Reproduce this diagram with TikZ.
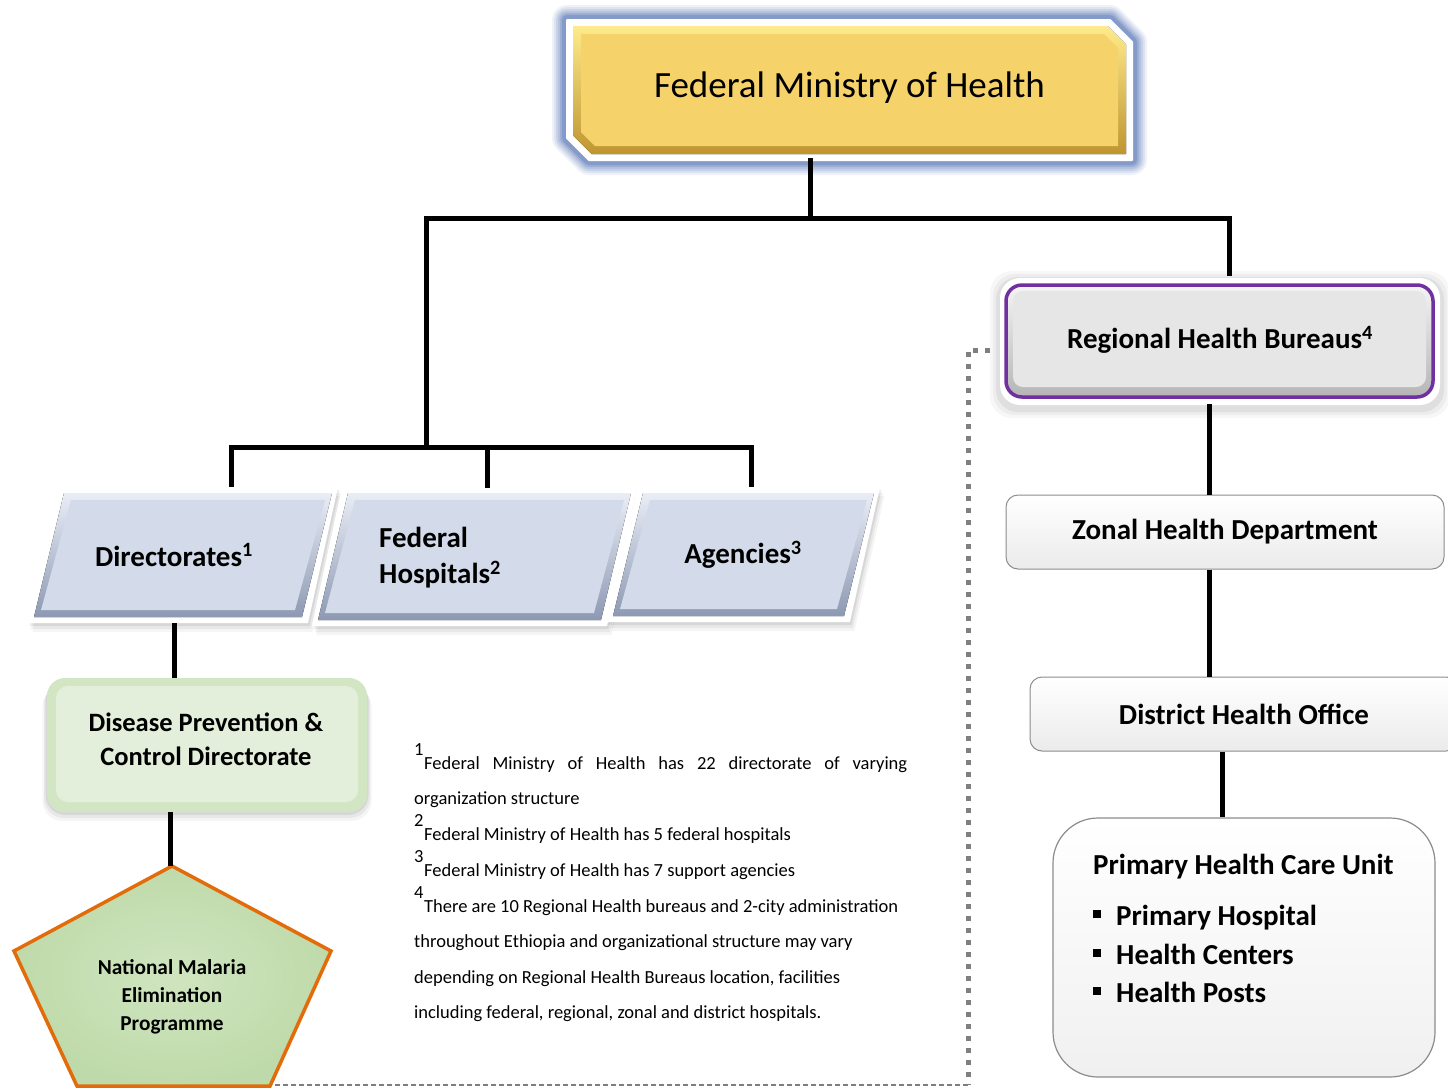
\documentclass[tikz,border=0pt]{standalone}
\usepackage{fontspec}
\setmainfont{Carlito}
\definecolor{glowblue}{HTML}{3F62AE}
\definecolor{fmlight}{HTML}{FFEB8C}
\definecolor{fmdark}{HTML}{BF9530}
\definecolor{fmyellow}{HTML}{F6D36A}
\definecolor{pgface}{HTML}{D3DBEA}
\definecolor{pglight}{HTML}{E9EDF6}
\definecolor{pgdark}{HTML}{8D99B3}
\definecolor{rhbpurple}{HTML}{7030A0}
\definecolor{rhbtop}{HTML}{F4F4F4}
\definecolor{rhbbot}{HTML}{B5B5B5}
\definecolor{rhbface}{HTML}{E6E6E6}
\definecolor{dpcedge}{HTML}{D3E6C4}
\definecolor{dpcface}{HTML}{E3EFDA}
\definecolor{pentin}{HTML}{CFE5BF}
\definecolor{pentout}{HTML}{BFDAAA}
\definecolor{pentorange}{HTML}{E36C0A}
\definecolor{dotgray}{HTML}{7F7F7F}
\definecolor{boxgray}{HTML}{8C8C8C}
\definecolor{boxfill}{HTML}{EBEBEB}
\definecolor{phcbot}{HTML}{F0F0F0}
\newcommand\pgbox[5]{%
  \foreach \s/\o in {9/0.04,6/0.05,3/0.07}{\fill[black,opacity=\o,xshift=\s pt*0.5,yshift=-\s pt,pg={#1}{#2}{#3}{#4}{#5}{0}];}
  \fill[white,pg={#1}{#2}{#3}{#4}{#5}{0}];
  \fill[top color=pglight,bottom color=pgdark,pg={#1}{#2}{#3}{#4}{#5}{6}];
  \fill[pgface,pg={#1}{#2}{#3}{#4}{#5}{13}];
}
\begin{document}
\begin{tikzpicture}[x=1pt,y=-1pt,
  conn/.style={line width=5pt, black, line join=miter},
  lbl/.style={font=\fontsize{29}{36}\selectfont\bfseries, text=black, inner sep=0pt, align=center},
  fn/.style={anchor=base west, inner sep=0pt, font=\fontsize{18.5}{22}\selectfont},
  pg/.style n args={6}{insert path={({#1+#5+#6},{#3+#6}) -- ({#1+#5+#2-#6},{#3+#6}) -- ({#1+#2-#6},{#4-#6}) -- ({#1+#6},{#4-#6}) -- cycle}},
  rbox/.style={lbl, draw=boxgray, line width=1pt, rounded corners=12pt, top color=white, bottom color=boxfill},
  dotsq/.style={dotgray, line width=5pt, dash pattern=on 5pt off 7pt},
  dashfine/.style={dotgray, line width=2.5pt, dash pattern=on 5pt off 3pt},
]
\useasboundingbox (0,0) rectangle (1448,1088);
\clip (0,0) rectangle (1448,1088);
\fill[white] (0,0) rectangle (1448,1088);

% ---------- Federal Ministry of Health ----------
\foreach \w/\o in {30/0.08,26/0.10,22/0.12,18/0.15,14/0.2,10/0.25}
  \draw[glowblue, line width=\w pt, opacity=\o, line join=round] (567,20) -- (1110,20) -- (1132,42) -- (1132,160) -- (589,160) -- (567,138) -- cycle;
\filldraw[white, line width=2pt, line join=round] (567,20) -- (1110,20) -- (1132,42) -- (1132,160) -- (589,160) -- (567,138) -- cycle;
\fill[top color=fmlight, bottom color=fmdark] (573,26) -- (1107.5,26) -- (1126,44.5) -- (1126,154) -- (591.5,154) -- (573,135.5) -- cycle;
\fill[fmyellow] (581,34) -- (1104.2,34) -- (1118,47.8) -- (1118,146) -- (594.8,146) -- (581,132.2) -- cycle;
\node[font=\fontsize{37}{44}\selectfont, minimum width=565pt, minimum height=140pt, inner sep=0pt] (fmoh) at (849.5,88) {Federal Ministry of Health};

% ---------- Regional Health Bureaus ----------
\foreach \s/\o in {10/0.03,7/0.04,4/0.06}
  \fill[black,opacity=\o,rounded corners=22pt] (1000-\s,278-\s+3) rectangle (1440+\s,405+\s+3);
\fill[white, rounded corners=20pt] (1000,278) rectangle (1440,405);
\draw[rhbpurple, line width=3.5pt, rounded corners=16pt, top color=rhbtop, bottom color=rhbbot] (1006,285) rectangle (1433,397);
\fill[rhbface, rounded corners=10pt] (1013,291) rectangle (1426,387);
\node[lbl, minimum width=440pt, minimum height=127pt] (rhb) at (1220,340) {Regional Health Bureaus\textsuperscript{4}};

% ---------- parallelograms ----------
\pgbox{28}{280}{487}{623}{30}
\pgbox{312}{295}{487}{626}{30}
\pgbox{607}{243}{487}{622}{30}
\node[lbl, minimum width=250pt, minimum height=136pt] (dir) at (174,555) {Directorates\textsuperscript{1}};
\node[lbl, align=left, anchor=west, minimum height=139pt] (fh) at (379,557.5) {Federal\\Hospitals\textsuperscript{2}};
\node[lbl, minimum width=200pt, minimum height=135pt] (ag) at (743,554.5) {Agencies\textsuperscript{3}};

% ---------- Disease Prevention & Control Directorate ----------
\foreach \s/\o in {9/0.04,6/0.05,3/0.07}
  \fill[black,opacity=\o,rounded corners=20pt] (47-\s/2,678+\s) rectangle (367+\s/2,812+\s);
\node[minimum width=320pt, minimum height=134pt, rounded corners=18pt, fill=dpcedge, inner sep=0pt] (dpc) at (207,745) {};
\fill[dpcface, rounded corners=12pt] (56,686) rectangle (358,802);
\node[lbl, font=\fontsize{26.5}{34}\selectfont\bfseries] (dpctext) at (206,739) {Disease Prevention \&\\Control Directorate};

% ---------- pentagon ----------
\coordinate (pA) at (172,866);
\coordinate (pR) at (331,951);
\coordinate (pBR) at (270,1086);
\coordinate (pBL) at (77,1086);
\coordinate (pL) at (14,951);
\draw[pentorange, line width=3.5pt, line join=miter, inner color=pentin, outer color=pentout] (pA) -- (pR) -- (pBR) -- (pBL) -- (pL) -- cycle;
\node[lbl, font=\fontsize{21.3}{28}\selectfont\bfseries] (nmep) at (172,997) {National Malaria\\Elimination\\Programme};

% ---------- right column ----------
\node[rbox, minimum width=438pt, minimum height=74pt] (zonal) at (1225,532) {Zonal Health Department};
\node[rbox, minimum width=428pt, minimum height=74pt] (district) at (1244,714) {District Health Office};
\node[draw=boxgray, line width=1.2pt, rounded corners=45pt, top color=white, bottom color=phcbot, minimum width=382pt, minimum height=259pt, inner sep=0pt] (phc) at (1244,947.5) {};
\node[lbl, anchor=base west] (phct) at (1093,874) {Primary Health Care Unit};
\node[lbl, anchor=base west] (phc1) at (1093,925) {\makebox[23pt][l]{\rule[7pt]{8pt}{8pt}}Primary Hospital};
\node[lbl, anchor=base west] (phc2) at (1093,964) {\makebox[23pt][l]{\rule[7pt]{8pt}{8pt}}Health Centers};
\node[lbl, anchor=base west] (phc3) at (1093,1002) {\makebox[23pt][l]{\rule[7pt]{8pt}{8pt}}Health Posts};

% ---------- connectors ----------
\coordinate (jT) at (810,218);
\coordinate (jL) at (426,218);
\coordinate (jR) at (1229,218);
\coordinate (jM) at (426,447);
\coordinate (jA) at (231,447);
\coordinate (jB) at (487,447);
\coordinate (jC) at (751,447);
\draw[conn] (jT |- fmoh.south) -- (jT);
\draw[conn] (jM) -- (jL) -- (jR) -- (jR |- rhb.north);
\draw[conn] (jA |- dir.north) -- (jA) -- (jC) -- (jC |- ag.north);
\draw[conn] (jB) -- (jB |- fh.north);
\draw[conn] (dir.south) -- (dir.south |- dpc.north);
\draw[conn] ([xshift=-2pt]pA |- dpc.south) -- ([xshift=-2pt]pA);
\draw[conn] ([xshift=-11pt]rhb.south) -- ([xshift=-11pt]rhb.south |- zonal.north);
\draw[conn] ([xshift=-16pt]zonal.south) -- ([xshift=-16pt]zonal.south |- district.north);
\draw[conn] ([xshift=-22pt]district.south) -- ([xshift=-22pt]district.south |- phc.north);

% ---------- dotted relation ----------
\coordinate (dS) at (990,350);
\coordinate (dC) at (968,1085);
\coordinate (dE) at (272,1085);
\draw[dotsq] (dS) -| (dC);
\draw[dashfine] (dC) -- (dE);

% ---------- footnotes ----------
\node[fn] (f1n) at (414,755) {1};
\node[fn] (f1a) at (424,769) {\makebox[483pt][s]{Federal Ministry of Health has 22 directorate of varying}};
\node[fn] (f1b) at (414,804) {organization structure};
\node[fn] (f2n) at (414,826) {2};
\node[fn] (f2a) at (424,840) {Federal Ministry of Health has 5 federal hospitals};
\node[fn] (f3n) at (414,862) {3};
\node[fn] (f3a) at (424,876) {Federal Ministry of Health has 7 support agencies};
\node[fn] (f4n) at (414,898) {4};
\node[fn] (f4a) at (424,912) {There are 10 Regional Health bureaus and 2-city administration};
\node[fn] (f4b) at (414,947) {throughout Ethiopia and organizational structure may vary};
\node[fn] (f4c) at (414,983) {depending on Regional Health Bureaus location, facilities};
\node[fn] (f4d) at (414,1018) {including federal, regional, zonal and district hospitals.};
\end{tikzpicture}
\end{document}
